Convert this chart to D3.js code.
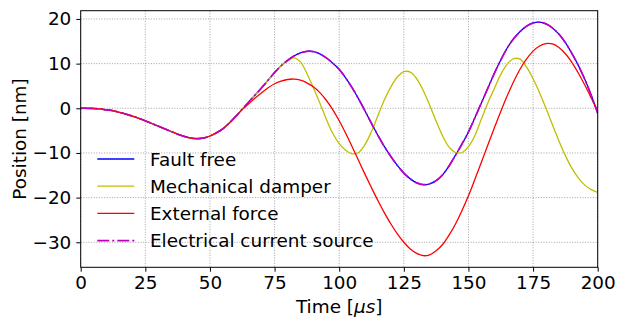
<!DOCTYPE html>
<html>
<head>
<meta charset="utf-8">
<script src="https://cdn.jsdelivr.net/npm/d3@7"></script>
<style>
  body { margin: 0; background: #fff; }
  text { font-family: "DejaVu Sans", sans-serif; fill: #000; }
</style>
</head>
<body>
<svg id="chart" width="617" height="320"></svg>
<script>
// sample times in microseconds
const timeUs = [
  0, 2.5, 5, 7.5, 10, 12.5, 15, 17.5, 20, 22.5,
  25, 27.5, 30, 32.5, 35, 37.5, 40, 42.5, 45, 47.5,
  50, 52.5, 55, 57.5, 60, 62.5, 65, 67.5, 70, 72.5,
  75, 77.5, 80, 82.5, 85, 87.5, 90, 92.5, 95, 97.5,
  100, 102.5, 105, 107.5, 110, 112.5, 115, 117.5, 120, 122.5,
  125, 127.5, 130, 132.5, 135, 137.5, 140, 142.5, 145, 147.5,
  150, 152.5, 155, 157.5, 160, 162.5, 165, 167.5, 170, 172.5,
  175, 177.5, 180, 182.5, 185, 187.5, 190, 192.5, 195, 197.5,
  200
];

// positions in nm
const faultFree = [
  0, 0, -0.05, -0.15, -0.35, -0.55, -0.9, -1.3, -1.75, -2.25,
  -2.8, -3.4, -4.0, -4.6, -5.2, -5.8, -6.3, -6.65, -6.8, -6.65,
  -6.2, -5.5, -4.6, -3.3, -1.8, -0.2, 1.4, 3.0, 4.6, 6.3,
  8.0, 9.5, 10.7, 11.7, 12.4, 12.75, 12.7, 12.2, 11.3, 10.1,
  8.7, 6.8, 4.6, 2.1, -0.6, -3.4, -6.1, -8.6, -10.8, -12.8,
  -14.5, -15.8, -16.7, -17.1, -16.9, -16.2, -14.9, -12.9, -10.5, -8.0,
  -5.3, -2.1, 1.2, 4.5, 7.8, 10.8, 13.5, 15.6, 17.2, 18.4,
  19.1, 19.3, 18.9, 18.0, 16.6, 14.7, 12.3, 9.6, 6.5, 2.9,
  -1.1
];

const mechanicalDamper = [
  0, 0, -0.05, -0.15, -0.35, -0.55, -0.9, -1.3, -1.75, -2.25,
  -2.8, -3.4, -4.0, -4.6, -5.2, -5.8, -6.3, -6.65, -6.8, -6.65,
  -6.2, -5.5, -4.6, -3.3, -1.8, -0.2, 1.4, 3.0, 4.6, 6.3,
  8.0, 9.5, 10.6, 11.3, 10.4, 7.8, 4.6, 1.2, -2.4, -5.6,
  -7.9, -9.4, -10.2, -9.9, -8.1, -5.2, -1.6, 1.9, 4.8, 7.0,
  8.2, 8.1, 6.6, 4.0, 0.7, -2.9, -6.2, -8.7, -9.9, -9.9,
  -8.6, -6.1, -2.4, 1.2, 4.4, 7.6, 9.9, 11.1, 11.0, 9.2,
  6.6, 3.5, 0.0, -3.7, -7.3, -10.6, -13.4, -15.6, -17.2, -18.2,
  -18.8
];

const externalForce = [
  0, 0, -0.05, -0.15, -0.35, -0.55, -0.9, -1.3, -1.75, -2.25,
  -2.8, -3.4, -4.0, -4.6, -5.2, -5.8, -6.3, -6.65, -6.8, -6.65,
  -6.2, -5.5, -4.6, -3.3, -1.8, -0.3, 1.0, 2.3, 3.5, 4.6,
  5.5, 6.1, 6.45, 6.55, 6.3, 5.7, 4.8, 3.5, 1.8, -0.3,
  -2.8, -5.6, -8.6, -11.7, -14.8, -17.8, -20.7, -23.4, -25.9, -28.1,
  -30.0, -31.5, -32.5, -33.0, -32.8, -31.9, -30.5, -28.4, -25.9, -22.9,
  -19.6, -15.9, -12.1, -8.2, -4.4, -0.7, 2.8, 6.0, 8.8, 11.05,
  12.8, 13.95, 14.5, 14.4, 13.6, 12.2, 10.3, 7.9, 5.2, 2.3,
  -0.7
];

const electricalSource = [
  0, 0, -0.05, -0.15, -0.35, -0.55, -0.9, -1.3, -1.75, -2.25,
  -2.8, -3.4, -4.0, -4.6, -5.2, -5.8, -6.3, -6.65, -6.8, -6.65,
  -6.2, -5.5, -4.6, -3.3, -1.8, -0.2, 1.4, 3.0, 4.6, 6.3,
  8.0, 9.5, 10.7, 11.7, 12.4, 12.75, 12.7, 12.2, 11.3, 10.1,
  8.7, 6.8, 4.6, 2.1, -0.6, -3.4, -6.1, -8.6, -10.8, -12.8,
  -14.5, -15.8, -16.7, -17.1, -16.9, -16.2, -14.9, -12.9, -10.5, -8.0,
  -5.3, -2.1, 1.2, 4.5, 7.8, 10.8, 13.5, 15.6, 17.2, 18.4,
  19.1, 19.3, 18.9, 18.0, 16.6, 14.7, 12.3, 9.6, 6.5, 2.9,
  -1.1
];

const seriesNames = ['Fault free', 'Mechanical damper', 'External force', 'Electrical current source'];
const seriesColors = ['#0000ff', '#bfbf00', '#ff0000', '#bf00bf'];
const seriesWidth = [1.3, 1.3, 1.3, 1.7];
const seriesDash = [null, null, null, '12,3,2,3'];
const seriesValues = [faultFree, mechanicalDamper, externalForce, electricalSource];

const xTicks = [0, 25, 50, 75, 100, 125, 150, 175, 200];
const yTicks = [-30, -20, -10, 0, 10, 20];

const fontSize = '18.4px';

const svg = d3.select('#chart');
const plotLeft = 80.7, plotRight = 597.7, plotTop = 10.7, plotBottom = 267.3;

const x = d3.scaleLinear().domain([0, 200]).range([plotLeft, plotRight]);
const y = d3.scaleLinear().domain([-35.6, 21.85]).range([plotBottom, plotTop]);

svg.append('defs').append('clipPath').attr('id', 'plot')
   .append('rect')
   .attr('x', plotLeft).attr('y', plotTop)
   .attr('width', plotRight - plotLeft).attr('height', plotBottom - plotTop);

// grid
const grid = svg.append('g');
grid.selectAll('.gx').data(xTicks).enter().append('line')
    .attr('x1', (d) => x(d)).attr('x2', (d) => x(d))
    .attr('y1', plotTop).attr('y2', plotBottom);
grid.selectAll('.gy').data(yTicks).enter().append('line')
    .attr('x1', plotLeft).attr('x2', plotRight)
    .attr('y1', (d) => y(d)).attr('y2', (d) => y(d));
grid.selectAll('line')
    .attr('stroke', '#999')
    .attr('stroke-width', 0.9)
    .attr('stroke-dasharray', '1,1.6');

// lines
const line = d3.line()
  .x((d) => x(d[0]))
  .y((d) => y(d[1]))
  .curve(d3.curveCatmullRom.alpha(0.5));

const plot = svg.append('g').attr('clip-path', 'url(#plot)');
seriesValues.forEach((vals, i) => {
  plot.append('path')
      .datum(timeUs.map((t, k) => [t, vals[k]]))
      .attr('d', line)
      .attr('fill', 'none')
      .attr('stroke', seriesColors[i])
      .attr('stroke-width', seriesWidth[i])
      .attr('stroke-dasharray', seriesDash[i]);
});

// axes
const fmt = d3.format('d');
const xAxis = svg.append('g')
  .attr('transform', `translate(0,${plotBottom})`)
  .call(d3.axisBottom(x).tickValues(xTicks).tickFormat(fmt).tickSize(4.4).tickPadding(4));
const yAxis = svg.append('g')
  .attr('transform', `translate(${plotLeft},0)`)
  .call(d3.axisLeft(y).tickValues(yTicks).tickFormat(fmt).tickSize(4.4).tickPadding(5));

[xAxis, yAxis].forEach((ax) => {
  ax.select('.domain').remove();
  ax.selectAll('.tick line').attr('stroke', '#000').attr('stroke-width', 1);
  ax.selectAll('.tick text')
    .attr('fill', '#000')
    .style('font-size', fontSize)
    .style('font-family', '"DejaVu Sans", sans-serif');
});

// frame
svg.append('rect')
   .attr('x', plotLeft).attr('y', plotTop)
   .attr('width', plotRight - plotLeft).attr('height', plotBottom - plotTop)
   .attr('fill', 'none')
   .attr('stroke', '#000')
   .attr('stroke-width', 1);

// axis labels
const xLabel = svg.append('text')
   .attr('x', (plotLeft + plotRight) / 2).attr('y', 312.5)
   .attr('text-anchor', 'middle')
   .style('font-size', fontSize);
xLabel.append('tspan').text('Time [');
xLabel.append('tspan').style('font-style', 'italic').text('μs');
xLabel.append('tspan').text(']');

svg.append('text')
   .attr('transform', `translate(26,${(plotTop + plotBottom) / 2}) rotate(-90)`)
   .attr('text-anchor', 'middle')
   .style('font-size', fontSize)
   .text('Position [nm]');

// legend
const legend = svg.append('g');
const rowY = [159, 186.2, 213.4, 240.6];
seriesNames.forEach((name, i) => {
  legend.append('line')
    .attr('x1', 97.3).attr('x2', 134.3)
    .attr('y1', rowY[i]).attr('y2', rowY[i])
    .attr('stroke', seriesColors[i])
    .attr('stroke-width', seriesWidth[i])
    .attr('stroke-dasharray', seriesDash[i]);
  legend.append('text')
    .attr('x', 150).attr('y', rowY[i])
    .attr('dy', '0.36em')
    .style('font-size', fontSize)
    .text(name);
});
</script>
</body>
</html>
